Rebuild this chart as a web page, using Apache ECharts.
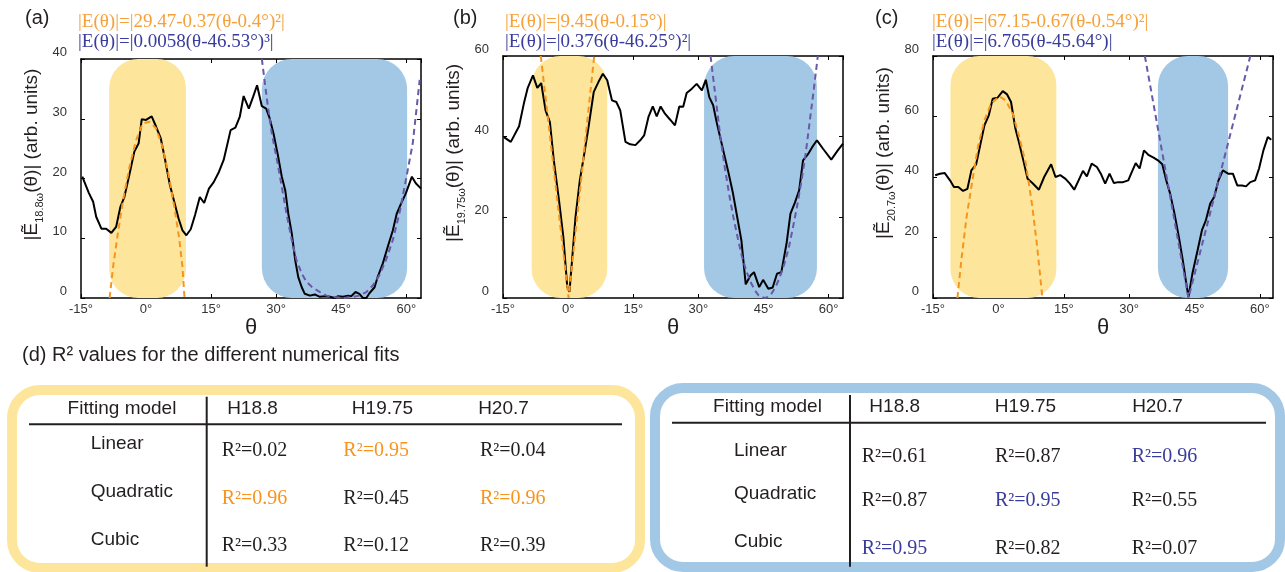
<!DOCTYPE html>
<html>
<head>
<meta charset="utf-8">
<script src="https://cdn.jsdelivr.net/npm/echarts@6/dist/echarts.min.js"></script>
<style>html,body{margin:0;padding:0;background:#fff}#c{width:1285px;height:572px}</style>
</head>
<body>
<div id="c"></div>
<script>
// ---------------- DATA ----------------
// Panel (a): H18.8, measured |E(theta)| (theta in degrees)
const curveA = [[-14.7,20.3],[-13.2,17.6],[-12.2,16.1],[-11.5,13.6],[-10.3,11.6],[-9.2,11.6],[-8.0,10.9],[-6.9,11.9],[-5.9,15.3],[-5.0,16.9],[-3.8,20.8],[-2.7,24.5],[-1.7,25.9],[-1.0,29.9],[0,29.8],[1.3,30.4],[2.3,28.7],[3.4,26.7],[4.4,23.1],[5.5,18.9],[6.5,16.1],[7.5,13.3],[8.4,11.3],[9.3,10.5],[10.3,11.5],[11.3,13.9],[12.4,16.9],[13.4,15.9],[14.5,18.3],[15.6,19.4],[16.8,21.1],[17.9,23.1],[19.5,28.1],[20.6,28.5],[21.6,30.3],[22.5,33.8],[23.7,31.7],[24.7,33.7],[25.6,35.6],[26.7,32.1],[27.7,31.7],[28.5,30.1],[29.4,27.5],[30.4,23.9],[31.3,20.3],[32.1,18.0],[32.8,14.1],[33.6,10.8],[34.4,6.3],[35.1,3.5],[35.9,1.8],[36.6,0.7],[37.8,0.4],[38.9,0.6],[40.1,0.2],[41.2,0.3],[42.4,0.2],[43.5,0],[44.3,0.3],[45.4,0.2],[46.6,0.4],[47.3,0.3],[48.3,1.0],[49.2,0.7],[50.0,0],[50.8,0],[51.5,0.8],[52.7,1.8],[53.4,3.5],[54.6,5.8],[55.7,8.5],[56.9,11.3],[57.8,14.1],[58.8,15.8],[59.9,17.5],[61.3,20.3],[62.2,19.2],[63.4,18.3]];
const fitQuadA = [[-8.4,0],[-7.6,5.2],[-6.5,10.8],[-5.3,16.4],[-3.8,22.0],[-2.3,26.4],[-0.8,29.2],[0.8,29.5],[2.3,28.4],[3.8,25.3],[5.3,20.3],[6.5,15.3],[7.6,10.2],[8.4,5.2],[8.8,0.7],[8.9,0]];
const fitCubicA = [[26.7,40],[27.9,33.1],[29.0,27.5],[30.2,23.1],[31.3,18.6],[32.4,14.1],[33.6,9.7],[34.7,6.3],[35.9,4.1],[37.0,2.7],[38.5,1.7],[40.1,1.0],[41.6,0.4],[43.1,0.2],[45.4,0],[47.7,0.2],[49.2,0.4],[50.8,1.0],[52.3,2.1],[53.8,3.8],[55.3,6.3],[56.9,9.7],[58.4,14.1],[59.9,19.7],[61.5,25.9],[63.1,36.5]];
const yellowSpanA = [-8.5, 9.2];
const blueSpanA = [26.7, 60.2];

// Panel (b): H19.75
const curveB = [[-14.8,39.9],[-13.2,38.7],[-11.3,42.6],[-10.2,48.2],[-9.3,52.1],[-8.1,55.2],[-7.1,52.1],[-6.2,53.3],[-5.2,46.5],[-4.2,43.6],[-3.3,34.1],[-2.1,24.2],[-1.1,15.1],[-0.2,2.7],[0.3,1.5],[0.9,9.3],[1.7,20.1],[2.7,29.2],[3.6,35.0],[4.7,42.4],[5.9,51.1],[7.0,53.6],[8.0,55.6],[9.0,54.0],[10.1,49.0],[11.1,48.6],[12.0,46.5],[13.2,38.7],[14.3,38.1],[15.5,37.9],[16.6,39.1],[17.5,40.3],[18.5,44.9],[19.5,47.5],[20.4,45.0],[21.3,47.5],[22.3,45.7],[23.5,44.2],[24.6,42.8],[25.6,47.5],[26.5,47.4],[27.3,50.8],[28.5,51.9],[29.6,53.1],[30.8,51.5],[31.7,54.1],[32.5,49.8],[33.4,47.8],[34.2,43.6],[35.0,39.9],[35.9,35.8],[36.9,31.2],[37.9,26.3],[38.8,20.9],[39.9,14.3],[40.9,3.4],[42.0,5.6],[42.8,6.4],[44.0,2.7],[44.9,4.5],[46.1,2.3],[47.1,2.6],[48.1,6.0],[49.1,6.4],[50.3,13.5],[51.2,20.9],[52.2,23.6],[53.2,26.7],[54.1,34.1],[55.2,35.6],[56.2,37.4],[57.3,39.1],[58.7,37.0],[60.6,34.3],[62.1,36.6],[63.3,38.3]];
const fitLinB = [[-6.3,60],[0.1,0],[6.0,60]];
const fitQuadB = [[32.8,60],[33.2,56.4],[34.2,47.6],[35.1,39.5],[36.1,32.2],[37.1,25.6],[38.1,19.8],[39.1,14.7],[40.0,10.4],[41.0,6.8],[42.0,4.0],[43.0,1.9],[43.9,0.6],[45.2,0],[45.9,0.2],[46.9,1.2],[47.8,2.8],[48.8,5.3],[49.8,8.5],[50.8,12.4],[51.7,17.1],[52.7,22.6],[53.7,28.8],[54.7,35.7],[55.6,43.5],[56.6,51.9],[57.5,60]];
const yellowSpanB = [-8.4, 9.0];
const blueSpanB = [31.3, 57.3];

// Panel (c): H20.7
const curveC = [[-14.5,40.6],[-13.4,41.1],[-12.3,41.3],[-11.1,38.9],[-10.2,36.7],[-9.2,36.7],[-8.1,35.4],[-7.1,36.1],[-6.2,42.2],[-5.1,44.2],[-4.1,51.0],[-3.2,57.1],[-2.2,60.4],[-1.3,65.9],[-0.2,66.2],[1.0,68.4],[2.0,67.3],[2.9,64.8],[3.9,56.0],[4.8,51.0],[5.8,45.0],[6.7,39.4],[7.8,38.0],[9.3,35.8],[10.5,40.0],[12.1,44.2],[13.1,40.0],[14.2,40.6],[15.4,39.4],[16.4,37.8],[17.4,35.8],[18.4,38.9],[19.4,42.0],[20.3,40.2],[21.4,44.4],[22.6,43.3],[23.5,41.1],[24.5,37.8],[25.5,41.1],[26.5,38.0],[27.5,38.3],[28.6,38.3],[29.8,38.9],[30.5,41.3],[31.5,44.6],[32.4,42.8],[33.4,48.8],[34.5,47.2],[35.6,46.4],[36.6,45.5],[37.6,44.2],[38.5,38.9],[39.4,34.5],[40.4,27.9],[41.4,20.2],[42.3,12.5],[43.0,5.8],[43.6,0.3],[44.5,8.0],[45.7,15.8],[46.7,22.4],[47.6,25.7],[48.6,31.2],[49.5,33.4],[50.5,38.9],[51.5,42.2],[52.7,41.1],[53.8,41.1],[54.8,37.2],[55.9,37.2],[56.8,36.9],[57.8,38.3],[58.9,38.9],[59.8,42.8],[60.8,48.8],[61.8,53.2],[62.6,52.3]];
const fitQuadC = [[-9.4,0],[-8.5,12.5],[-7.3,26.8],[-6.2,36.7],[-4.7,49.9],[-3.2,58.7],[-1.7,64.2],[0.2,66.7],[1.7,65.3],[3.3,60.9],[4.8,53.2],[6.3,44.4],[7.8,30.1],[8.9,16.9],[10.1,0]];
const fitLinC = [[33.6,80],[43.6,0],[57.8,80]];
const yellowSpanC = [-11.0, 13.3];
const blueSpanC = [36.6, 52.7];

// Fit equations and R2 of the plotted fits
const eqsA = ['|E(θ)|=|29.47-0.37(θ-0.4°)²|', '|E(θ)|=|0.0058(θ-46.53°)³|'];
const eqsB = ['|E(θ)|=|9.45(θ-0.15°)|', '|E(θ)|=|0.376(θ-46.25°)²|'];
const eqsC = ['|E(θ)|=|67.15-0.67(θ-0.54°)²|', '|E(θ)|=|6.765(θ-45.64°)|'];
const plotR2 = [[0.96, 0.96], [0.95, 0.95], [0.96, 0.96]]; // [yellow fit, blue fit] per panel
const harmonics = ['18.8ω', '19.75ω', '20.7ω'];

// Table (d)
const tableTitle = '(d) R² values for the different numerical fits';
const tableHeader = ['H18.8', 'H19.75', 'H20.7'];
const tableModels = ['Linear', 'Quadratic', 'Cubic'];
const yellowR2 = [[0.02, 0.95, 0.04], [0.96, 0.45, 0.96], [0.33, 0.12, 0.39]];
const blueR2 = [[0.61, 0.87, 0.96], [0.87, 0.95, 0.55], [0.95, 0.82, 0.07]];

// ---------------- STYLE ----------------
const SANS = '"Liberation Sans", Arial, "DejaVu Sans", sans-serif';
const SERIF = '"Liberation Serif", "DejaVu Serif", serif';
const INK = '#231F20';
const ORANGE = '#F7941D';
const ORANGE_TXT = '#F6A03A';
const NAVY = '#393C9C';
const PURPLE_DASH = '#6A58A8';
const YELLOW = '#FDE69B';
const BLUE = '#A3C8E5';

const panels = [
  {grid: {left: 81, top: 59, width: 340, height: 239}, xmax: 63.4, ymax: 40, yint: 10,
   curve: curveA, fitY: fitQuadA, fitB: fitCubicA, spanY: yellowSpanA, spanB: blueSpanA,
   eqs: eqsA, r2: plotR2[0], sub: harmonics[0], tag: '(a)', tagX: 25, eqX: 78,
   posY: [16.3, 2.5], posB: [43.1, 37.1]},
  {grid: {left: 503, top: 56, width: 340, height: 242}, xmax: 63.3, ymax: 60, yint: 20,
   curve: curveB, fitY: fitLinB, fitB: fitQuadB, spanY: yellowSpanB, spanB: blueSpanB,
   eqs: eqsB, r2: plotR2[1], sub: harmonics[1], tag: '(b)', tagX: 453, eqX: 505,
   posY: [16.6, 3.7], posB: [43.6, 55.0]},
  {grid: {left: 933, top: 56, width: 340, height: 242}, xmax: 63, ymax: 80, yint: 20,
   curve: curveC, fitY: fitQuadC, fitB: fitLinC, spanY: yellowSpanC, spanB: blueSpanC,
   eqs: eqsC, r2: plotR2[2], sub: harmonics[2], tag: '(c)', tagX: 875, eqX: 932,
   posY: [20.4, 4.9], posB: [44.5, 73.3]}
];

function regionRenderer(color, radius) {
  return function (params, api) {
    const cs = params.coordSys;
    const a = api.coord([api.value(0), 0]);
    const b = api.coord([api.value(1), 0]);
    const w = b[0] - a[0];
    return {
      type: 'rect',
      shape: {x: a[0], y: cs.y, width: w, height: cs.height, r: Math.min(radius, w / 2)},
      style: {fill: color}
    };
  };
}

const grids = [], xAxes = [], yAxes = [], series = [], graphics = [];
const axisLineStyle = {color: '#000', width: 1.5};

panels.forEach((p, i) => {
  grids.push(Object.assign({}, p.grid));
  xAxes.push({
    type: 'value', gridIndex: i, min: -15, max: p.xmax, interval: 15, position: 'bottom',
    axisLine: {show: true, onZero: false, lineStyle: axisLineStyle},
    axisTick: {show: true, inside: true, length: 4, lineStyle: {color: '#000', width: 1}},
    axisLabel: {show: true, formatter: v => v + '°', fontFamily: SANS, fontSize: 13, color: '#333', margin: 5, showMaxLabel: false},
    splitLine: {show: false},
    name: 'θ', nameLocation: 'middle', nameGap: 13,
    nameTextStyle: {fontFamily: SANS, fontSize: 22, color: INK}
  });
  xAxes.push({
    type: 'value', gridIndex: i, min: -15, max: p.xmax, interval: 15, position: 'top',
    axisLine: {show: true, onZero: false, lineStyle: axisLineStyle},
    axisTick: {show: true, inside: true, length: 4, lineStyle: {color: '#000', width: 1}},
    axisLabel: {show: false}, splitLine: {show: false}
  });
  yAxes.push({
    type: 'value', gridIndex: i, min: 0, max: p.ymax, interval: p.yint, position: 'left',
    axisLine: {show: true, onZero: false, lineStyle: axisLineStyle},
    axisTick: {show: true, inside: true, length: 4, lineStyle: {color: '#000', width: 1}},
    axisLabel: {show: true, fontFamily: SANS, fontSize: 13, color: '#333', margin: 14, verticalAlign: 'bottom'},
    splitLine: {show: false},
    name: '{t||Ẽ}{s|' + p.sub + '}{t|(θ)| (arb. units)}',
    nameLocation: 'middle', nameGap: 36,
    nameTextStyle: {
      fontFamily: SANS, fontSize: 19, color: INK, padding: [0, 0, 0, 48],
      rich: {
        t: {fontFamily: SANS, fontSize: 19, color: INK, lineHeight: 26},
        s: {fontFamily: SANS, fontSize: 11, color: INK, verticalAlign: 'bottom'}
      }
    }
  });
  yAxes.push({
    type: 'value', gridIndex: i, min: 0, max: p.ymax, interval: p.yint, position: 'right',
    axisLine: {show: true, onZero: false, lineStyle: axisLineStyle},
    axisTick: {show: true, inside: true, length: 4, lineStyle: {color: '#000', width: 1}},
    axisLabel: {show: false}, splitLine: {show: false}
  });

  const xi = 2 * i, yi = 2 * i;
  series.push({
    type: 'custom', xAxisIndex: xi, yAxisIndex: yi, silent: true, z: 1,
    renderItem: regionRenderer(YELLOW, 29), encode: {x: [0, 1]}, data: [p.spanY]
  });
  series.push({
    type: 'custom', xAxisIndex: xi, yAxisIndex: yi, silent: true, z: 1,
    renderItem: regionRenderer(BLUE, 30), encode: {x: [0, 1]}, data: [p.spanB]
  });
  series.push({
    type: 'line', xAxisIndex: xi, yAxisIndex: yi, data: p.curve, symbol: 'none', z: 3,
    lineStyle: {color: '#000', width: 2}, silent: true
  });
  series.push({
    type: 'line', xAxisIndex: xi, yAxisIndex: yi, data: p.fitY, symbol: 'none', z: 4,
    lineStyle: {color: ORANGE, width: 2, type: [6, 4]}, silent: true
  });
  series.push({
    type: 'line', xAxisIndex: xi, yAxisIndex: yi, data: p.fitB, symbol: 'none', z: 4,
    lineStyle: {color: PURPLE_DASH, width: 2, type: [6, 4]}, silent: true
  });
  series.push({
    type: 'scatter', xAxisIndex: xi, yAxisIndex: yi, symbolSize: 1, z: 5, silent: true,
    itemStyle: {opacity: 0},
    label: {show: true, position: 'inside', formatter: '{b}', fontFamily: SERIF, fontSize: 18},
    data: [
      {name: 'R²=' + p.r2[0].toFixed(2), value: p.posY, label: {color: ORANGE_TXT}},
      {name: 'R²=' + p.r2[1].toFixed(2), value: p.posB, label: {color: NAVY}}
    ]
  });

  graphics.push(txt(p.tagX, 18, p.tag, '20px ' + SANS, INK, 'left'));
  graphics.push(txt(p.eqX, 22, p.eqs[0], '19px ' + SERIF, ORANGE_TXT, 'left'));
  graphics.push(txt(p.eqX, 42, p.eqs[1], '19px ' + SERIF, NAVY, 'left'));
});

function txt(x, y, text, font, fill, align) {
  return {type: 'text', x: x, y: y, silent: true, z: 10,
    style: {text: text, font: font, fill: fill, align: align, textAlign: align,
            verticalAlign: 'middle', textVerticalAlign: 'middle'}};
}
function seg(x1, y1, x2, y2) {
  return {type: 'line', silent: true, z: 10, shape: {x1, y1, x2, y2}, style: {stroke: INK, lineWidth: 2}};
}

// Table (d)
graphics.push(txt(22, 355, tableTitle, '20px ' + SANS, INK, 'left'));
const tables = [
  {values: yellowR2, border: YELLOW, hi: ORANGE, box: [12, 390, 628, 178], lineY: 424.3, lineX: [29, 622],
   vX: 206.7, vY: [396.7, 566.7], headY: 408.3, fitX: 122, labX: 90.7, labY: [444, 491.7, 539.3],
   headX: [252.5, 382.5, 503.5], valX: [221.7, 343.3, 480], valY: [450.7, 498.3, 545.7]},
  {values: blueR2, border: BLUE, hi: NAVY, box: [655, 388, 625, 179], lineY: 422.7, lineX: [672, 1266],
   vX: 850, vY: [395, 566.7], headY: 406.7, fitX: 767.5, labX: 734, labY: [451, 493.3, 541.7],
   headX: [894.7, 1025.5, 1157.5], valX: [861.7, 995, 1131.7], valY: [456.7, 500.7, 548.3]}
];
tables.forEach(t => {
  graphics.push({type: 'rect', silent: true, z: 9,
    shape: {x: t.box[0], y: t.box[1], width: t.box[2], height: t.box[3], r: 28},
    style: {fill: 'none', stroke: t.border, lineWidth: 10}});
  graphics.push(seg(t.lineX[0], t.lineY, t.lineX[1], t.lineY));
  graphics.push(seg(t.vX, t.vY[0], t.vX, t.vY[1]));
  graphics.push(txt(t.fitX, t.headY, 'Fitting model', '19px ' + SANS, INK, 'center'));
  tableHeader.forEach((h, j) => graphics.push(txt(t.headX[j], t.headY, h, '19px ' + SANS, INK, 'center')));
  tableModels.forEach((m, r) => {
    graphics.push(txt(t.labX, t.labY[r], m, '19px ' + SANS, INK, 'left'));
    t.values[r].forEach((v, c) => {
      const colMax = Math.max.apply(null, t.values.map(row => row[c]));
      graphics.push(txt(t.valX[c], t.valY[r], 'R²=' + v.toFixed(2), '20px ' + SERIF,
        v === colMax ? t.hi : INK, 'left'));
    });
  });
});

const chart = echarts.init(document.getElementById('c'), null, {renderer: 'canvas'});
chart.setOption({
  backgroundColor: '#fff',
  animation: false,
  tooltip: {show: false},
  grid: grids,
  xAxis: xAxes,
  yAxis: yAxes,
  series: series,
  graphic: {elements: graphics}
});
</script>
</body>
</html>
